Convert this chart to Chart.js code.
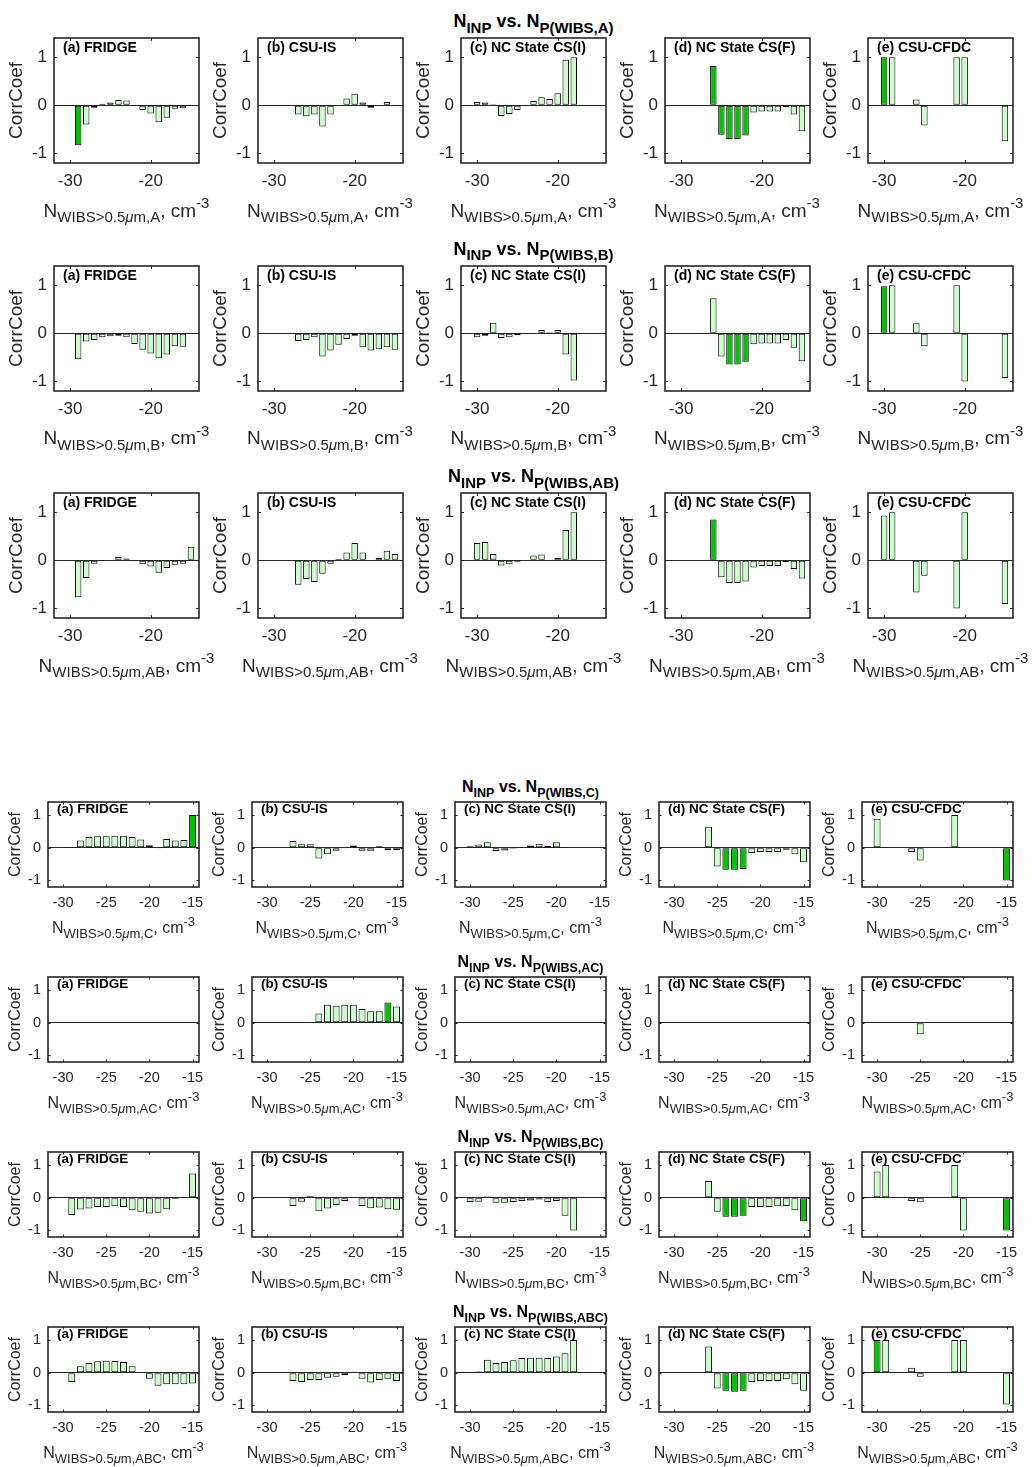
<!DOCTYPE html>
<html>
<head>
<meta charset="utf-8">
<script src="https://cdn.jsdelivr.net/npm/chart.js@4.4.1/dist/chart.umd.min.js"></script>
<style>
  body { margin: 0; background: #fff; width: 1034px; height: 1467px; position: relative; overflow: hidden;
         font-family: "Liberation Sans", Arial, Helvetica, sans-serif; color: #262626; }
  canvas { position: absolute; }
  .ttl { position: absolute; font-weight: bold; white-space: nowrap; line-height: 1; color: #000; transform: translateX(-50%); }
  .xl { position: absolute; white-space: nowrap; line-height: 1; transform: translateX(-50%); }
  .lo { position: relative; top: 0.37em; }
  .hi { position: relative; top: -0.56em; }
</style>
</head>
<body>
<script>
'use strict';

// ── data ──────────────────────────────────────────────
const temps = [-30, -29, -28, -27, -26, -25, -24, -23, -22, -21, -20, -19, -18, -17, -16, -15];
const instruments = ['(a) FRIDGE', '(b) CSU-IS', '(c) NC State CS(I)', '(d) NC State CS(F)', '(e) CSU-CFDC'];
const channels = ['A', 'B', 'AB', 'C', 'AC', 'BC', 'ABC'];
const yTickVals = [-1, 0, 1];
const yTickLabels = ['-1', '0', '1'];
const topXTicks = [-30, -20];
const topXTickLabels = ['-30', '-20'];
const bottomXTicks = [-30, -25, -20, -15];
const bottomXTickLabels = ['-30', '-25', '-20', '-15'];
const _ = null;

// one row per instrument, values at temps
const corrA = [
  [_, -0.83, -0.40, -0.05, 0.03, 0.06, 0.11, 0.10, _, -0.10, -0.17, -0.35, -0.26, -0.07, -0.06, -0.02],
  [_, _, _, -0.19, -0.23, -0.19, -0.44, -0.19, 0.01, 0.14, 0.24, 0.06, -0.05, _, 0.07, _],
  [0.07, 0.06, 0.02, -0.22, -0.18, -0.10, -0.02, 0.09, 0.17, 0.13, 0.25, 0.95, 1.00, _, _, _],
  [_, _, _, _, 0.82, -0.61, -0.70, -0.70, -0.63, -0.15, -0.13, -0.13, -0.13, -0.04, -0.19, -0.54],
  [1.00, 1.00, _, _, 0.12, -0.42, _, _, _, 1.00, 1.00, _, _, _, _, -0.75]
];
const sigA = [[-29], [], [], [-26, -25, -24, -23, -22], [-30]];

const corrB = [
  [_, -0.54, -0.17, -0.14, -0.08, -0.06, -0.05, -0.08, -0.22, -0.34, -0.42, -0.52, -0.44, -0.27, -0.28, -0.01],
  [_, _, _, -0.16, -0.14, -0.08, -0.48, -0.36, -0.24, -0.12, -0.05, -0.29, -0.36, -0.33, -0.29, -0.34],
  [-0.08, -0.05, 0.22, -0.10, -0.08, -0.04, _, 0.01, 0.07, 0.02, 0.07, -0.44, -0.98, _, _, _],
  [_, _, _, _, 0.73, -0.48, -0.65, -0.65, -0.59, -0.23, -0.21, -0.21, -0.21, -0.14, -0.30, -0.58],
  [0.98, 1.00, _, _, 0.21, -0.27, _, _, _, 1.00, -1.00, _, _, _, _, -0.93]
];
const sigB = [[], [], [], [-24, -23, -22], [-30]];

const corrAB = [
  [_, -0.77, -0.37, -0.07, _, 0.01, 0.07, 0.04, -0.02, -0.08, -0.13, -0.26, -0.16, -0.09, -0.07, 0.28],
  [_, _, _, -0.51, -0.39, -0.45, -0.28, -0.07, 0.03, 0.16, 0.36, 0.16, _, 0.05, 0.20, 0.13],
  [0.36, 0.38, 0.13, -0.11, -0.08, -0.03, 0.01, 0.10, 0.12, -0.01, 0.05, 0.63, 1.00, _, _, _],
  [_, _, _, _, 0.85, -0.35, -0.47, -0.47, -0.44, -0.15, -0.12, -0.12, -0.12, -0.04, -0.18, -0.38],
  [0.93, 1.00, _, _, -0.67, -0.32, _, _, _, -1.00, 1.00, _, _, _, _, -0.91]
];
const sigAB = [[], [], [], [-26], []];

const corrC = [
  [_, 0.02, 0.22, 0.33, 0.35, 0.35, 0.37, 0.37, 0.33, 0.25, 0.08, -0.02, 0.27, 0.22, 0.24, 1.00],
  [_, _, _, 0.21, 0.11, 0.11, -0.33, -0.20, -0.09, -0.01, 0.07, -0.09, -0.09, 0.05, -0.07, -0.07],
  [0.05, 0.10, 0.17, -0.10, -0.08, -0.03, 0.01, 0.07, 0.12, 0.06, 0.17, 0.01, _, _, _, _],
  [_, _, _, _, 0.64, -0.57, -0.67, -0.67, -0.65, -0.16, -0.13, -0.13, -0.13, -0.06, -0.20, -0.44],
  [0.89, _, _, _, -0.13, -0.39, _, _, _, 1.00, _, _, _, _, _, -1.00]
];
const sigC = [[-15], [], [], [-24, -23, -22], [-15]];

const corrAC = [
  [_, _, _, _, _, _, _, _, _, _, _, _, _, _, _, _],
  [_, _, _, _, _, _, 0.28, 0.55, 0.52, 0.55, 0.55, 0.42, 0.35, 0.35, 0.62, 0.50],
  [_, _, _, _, _, _, _, _, _, _, _, _, _, _, _, _],
  [_, _, _, _, _, _, _, _, _, _, _, _, _, _, _, _],
  [_, _, _, _, _, -0.35, _, _, _, _, _, _, _, _, _, _]
];
const sigAC = [[], [-16], [], [], []];

const corrBC = [
  [_, -0.53, -0.36, -0.33, -0.28, -0.28, -0.26, -0.28, -0.38, -0.43, -0.48, -0.46, -0.35, -0.04, -0.02, 0.74],
  [_, _, _, -0.25, -0.12, 0.05, -0.41, -0.33, -0.22, -0.10, 0.01, -0.25, -0.32, -0.30, -0.35, -0.37],
  [-0.13, -0.12, 0.04, -0.15, -0.15, -0.13, -0.10, -0.08, -0.05, -0.13, -0.10, -0.55, -1.00, _, _, _],
  [_, _, _, _, 0.51, -0.43, -0.58, -0.58, -0.55, -0.28, -0.28, -0.28, -0.26, -0.25, -0.38, -0.72],
  [0.80, 1.00, _, _, -0.10, -0.14, _, _, _, 1.00, -1.00, _, _, _, _, -1.00]
];
const sigBC = [[], [], [], [-24, -23, -22, -15], [-15]];

const corrABC = [
  [_, -0.28, 0.20, 0.30, 0.35, 0.37, 0.36, 0.33, 0.20, 0.02, -0.18, -0.40, -0.35, -0.35, -0.35, -0.33],
  [_, _, _, -0.25, -0.28, -0.22, -0.22, -0.15, -0.12, -0.07, 0.03, -0.18, -0.30, -0.22, -0.18, -0.25],
  [0.02, 0.04, 0.40, 0.30, 0.33, 0.38, 0.45, 0.46, 0.46, 0.45, 0.50, 0.60, 1.00, _, _, _],
  [_, _, _, _, 0.80, -0.48, -0.55, -0.58, -0.55, -0.28, -0.25, -0.25, -0.25, -0.20, -0.35, -0.55],
  [1.00, 1.00, _, _, 0.15, -0.12, _, _, _, 1.00, 1.00, _, _, _, _, -0.97]
];
const sigABC = [[], [], [], [-24, -23, -22], [-30]];

const corrRows = [corrA, corrB, corrAB, corrC, corrAC, corrBC, corrABC];
const sigRows = [sigA, sigB, sigAB, sigC, sigAC, sigBC, sigABC];

// ── look ──────────────────────────────────────────────
const INK = '#262626';
const LIGHT = 'rgb(204,255,204)';
const DARK = 'rgb(0,192,0)';

const topLayout = {
  colLeft: [54, 257.5, 461, 664.5, 868], rowTop: [38, 265.5, 493], boxW: 145, boxH: 125,
  xMin: -32, xMax: -14, xTicks: topXTicks, xTickLabels: topXTickLabels,
  padL: 50, padT: 22, padR: 14, padB: 32, tickSize: 17, xTickPad: 8, yTickPad: 7,
  yTitleSize: 19, yTitlePad: 1.6, panelSize: 14, panelDx: 9, panelDy: 3, tickLen: 3,
  titleSize: 18, titleSub: 15, titleGap: 17, xlabSize: 19, xlabSub: 15, xlabGap: 47
};
const bottomLayout = {
  colLeft: [48, 251.5, 455, 658.5, 862], rowTop: [802, 977, 1152, 1327], boxW: 151, boxH: 85,
  xMin: -31.75, xMax: -14.25, xTicks: bottomXTicks, xTickLabels: bottomXTickLabels,
  padL: 44, padT: 22, padR: 14, padB: 28, tickSize: 14.5, xTickPad: 7, yTickPad: 7,
  yTitleSize: 16, yTitlePad: 2.4, panelSize: 13.5, panelDx: 9, panelDy: 0.5, tickLen: 2.5,
  titleSize: 16, titleSub: 12.5, titleGap: 15, xlabSize: 16, xlabSub: 13, xlabGap: 41
};

Chart.defaults.font.family = '"Liberation Sans", Arial, Helvetica, sans-serif';
Chart.defaults.color = INK;

// box, inward ticks and panel label (MATLAB style)
const framePlugin = {
  id: 'frame',
  afterDatasetsDraw(chart, args, opts) {
    const { ctx, chartArea: a, scales: { x, y } } = chart;
    ctx.save();
    ctx.strokeStyle = INK;
    ctx.lineWidth = 1;
    ctx.beginPath();
    x.ticks.forEach(t => {
      const px = Math.round(x.getPixelForValue(t.value)) + 0.5;
      ctx.moveTo(px, a.bottom); ctx.lineTo(px, a.bottom - opts.tickLen);
      ctx.moveTo(px, a.top); ctx.lineTo(px, a.top + opts.tickLen);
    });
    y.ticks.forEach(t => {
      const py = Math.round(y.getPixelForValue(t.value)) + 0.5;
      ctx.moveTo(a.left, py); ctx.lineTo(a.left + opts.tickLen, py);
      ctx.moveTo(a.right, py); ctx.lineTo(a.right - opts.tickLen, py);
    });
    ctx.stroke();
    ctx.lineWidth = 1.6;
    ctx.strokeRect(a.left, a.top, a.right - a.left, a.bottom - a.top);

    ctx.fillStyle = '#000';
    ctx.font = `bold ${opts.size}px "Liberation Sans", Arial, sans-serif`;
    ctx.textBaseline = 'top';
    ctx.textAlign = 'left';
    ctx.fillText(opts.label, a.left + opts.dx, a.top + opts.dy);
    ctx.restore();
  }
};

function addDiv(cls, html, left, top, size) {
  const d = document.createElement('div');
  d.className = cls;
  d.innerHTML = html;
  d.style.left = left + 'px';
  d.style.top = top + 'px';
  d.style.fontSize = size + 'px';
  document.body.appendChild(d);
}

function makePanel(L, boxTop, c, vals, sig, ch) {
  const left = L.colLeft[c];
  const w = L.boxW + L.padL + L.padR;
  const h = L.boxH + L.padT + L.padB;
  const cv = document.createElement('canvas');
  cv.width = w; cv.height = h;
  cv.style.left = (left - L.padL) + 'px';
  cv.style.top = (boxTop - L.padT) + 'px';
  cv.style.width = w + 'px';
  cv.style.height = h + 'px';
  document.body.appendChild(cv);

  new Chart(cv, {
    type: 'bar',
    data: {
      datasets: [{
        data: temps.map((t, i) => ({ x: t, y: vals[i] })),
        backgroundColor: temps.map(t => sig.includes(t) ? DARK : LIGHT),
        borderColor: '#000',
        borderWidth: 1,
        borderSkipped: false,
        barPercentage: 0.8,
        categoryPercentage: 1
      }]
    },
    options: {
      responsive: false,
      animation: false,
      devicePixelRatio: 1,
      events: [],
      layout: { padding: { left: 0, top: L.padT, right: L.padR, bottom: 0 } },
      plugins: {
        legend: { display: false },
        tooltip: { enabled: false },
        frame: { label: instruments[c], size: L.panelSize, dx: L.panelDx, dy: L.panelDy, tickLen: L.tickLen }
      },
      scales: {
        x: {
          type: 'linear', min: L.xMin, max: L.xMax, offset: false,
          grid: { display: false, drawTicks: false, offset: false },
          border: { display: false },
          afterBuildTicks: s => { s.ticks = L.xTicks.map(v => ({ value: v })); },
          afterFit: s => { s.height = L.padB; },
          ticks: {
            autoSkip: false, maxRotation: 0, padding: L.xTickPad, color: INK,
            font: { size: L.tickSize },
            callback: v => L.xTickLabels[L.xTicks.indexOf(v)]
          }
        },
        y: {
          min: -1.2, max: 1.4,
          grid: { drawTicks: false, lineWidth: 1, color: g => (g.tick && g.tick.value === 0) ? INK : 'rgba(0,0,0,0)' },
          border: { display: false },
          afterBuildTicks: s => { s.ticks = yTickVals.map(v => ({ value: v })); },
          afterFit: s => { s.width = L.padL; },
          ticks: {
            padding: L.yTickPad, color: INK, font: { size: L.tickSize },
            callback: v => yTickLabels[yTickVals.indexOf(v)]
          },
          title: { display: true, text: 'CorrCoef', color: INK, font: { size: L.yTitleSize }, padding: { top: L.yTitlePad, bottom: 0 } }
        }
      }
    },
    plugins: [framePlugin]
  });

  const sub = `font-size:${L.xlabSub}px`;
  addDiv('xl',
    `N<span class="lo" style="${sub}">WIBS&gt;0.5<i>μ</i>m,${ch}</span>, cm<span class="hi" style="${sub}">-3</span>`,
    left + L.boxW / 2,
    boxTop + L.boxH + L.xlabGap - 0.49 * L.xlabSize,
    L.xlabSize);
}

channels.forEach((ch, r) => {
  const L = r < 3 ? topLayout : bottomLayout;
  const boxTop = L.rowTop[r < 3 ? r : r - 3];
  const sub = `font-size:${L.titleSub}px`;
  addDiv('ttl',
    `N<span class="lo" style="${sub}">INP</span> vs. N<span class="lo" style="${sub}">P(WIBS,${ch})</span>`,
    L.colLeft[2] + L.boxW / 2,
    boxTop - L.titleGap - 0.49 * L.titleSize,
    L.titleSize);
  instruments.forEach((name, c) => makePanel(L, boxTop, c, corrRows[r][c], sigRows[r][c], ch));
});
</script>
</body>
</html>
